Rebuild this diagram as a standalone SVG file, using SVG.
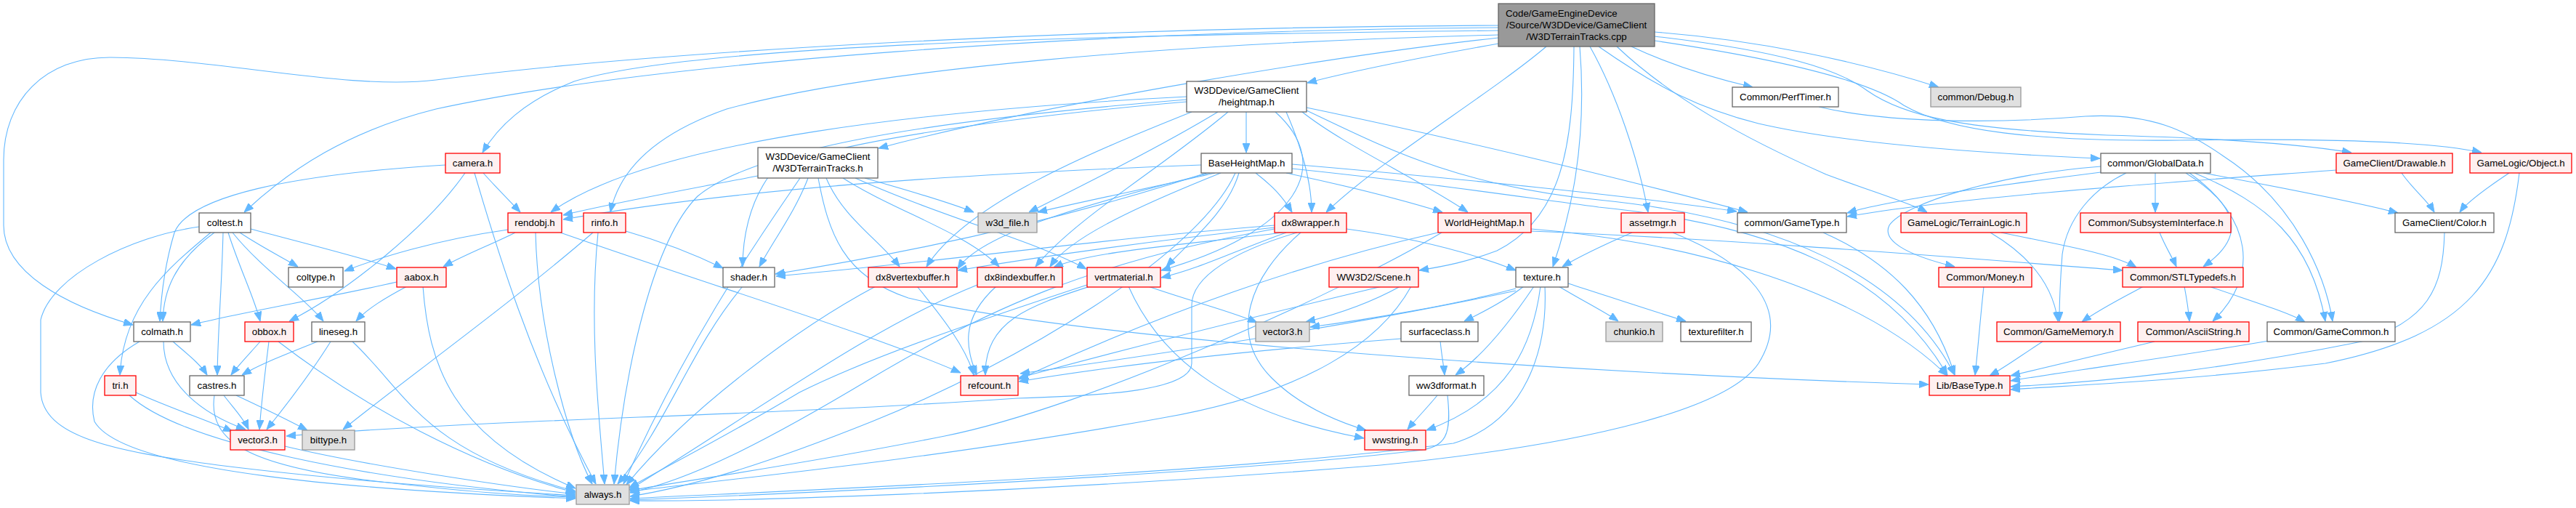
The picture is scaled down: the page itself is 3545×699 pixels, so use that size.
<svg xmlns="http://www.w3.org/2000/svg" width="3545" height="699" viewBox="0 0 3545 699">
<defs>
<style>
.w{fill:#ffffff;stroke:#666666;stroke-width:1.3}
.g{fill:#e0e0e0;stroke:#999999;stroke-width:1.3}
.r{fill:#fff0f0;stroke:#ff0000;stroke-width:1.3}
.m{fill:#999999;stroke:#666666;stroke-width:1.3}
text{font-family:"Liberation Sans",Arial,Helvetica,sans-serif;font-size:13.3px;fill:#000000;text-anchor:middle}
.e path{fill:none;stroke:#63b8ff;stroke-width:1.1;marker-end:url(#a)}
</style>
<marker id="a" markerUnits="userSpaceOnUse" markerWidth="13" markerHeight="10" refX="13" refY="5" orient="auto">
<path d="M0,0 L13,5 L0,10 z" fill="#63b8ff" stroke="#63b8ff" stroke-width="1"/>
</marker>
</defs>
<rect width="3545" height="699" fill="#ffffff"/>
<g class="e" id="edges">
<path d="M2062,52 C1850,75 1450,140 1209,204"/>
<path d="M2062,60 C1950,80 1860,98 1799,114"/>
<path d="M2062,42 C1500,48 950,62 790,112 C720,140 685,175 664,210"/>
<path d="M2062,38 C1500,42 900,85 600,150 C480,180 400,232 336,292"/>
<path d="M2062,35 C1500,37 900,70 600,110 C480,125 300,80 153,79 C60,78 5,140 5,220 L5,310 C5,375 90,420 183,447"/>
<path d="M2062,48 C1600,60 1200,95 1000,150 C900,185 852,235 840,292"/>
<path d="M2128,64 C2050,130 1900,220 1825,292"/>
<path d="M2166,64 C2165,200 2150,300 2060,345 C2020,360 1990,366 1953,372"/>
<path d="M2174,64 C2185,200 2160,300 2137,367"/>
<path d="M2188,64 C2225,130 2255,220 2268,292"/>
<path d="M2245,64 C2300,90 2360,108 2412,120"/>
<path d="M2277,44 C2420,55 2560,85 2668,120"/>
<path d="M2200,64 C2280,120 2340,150 2420,170 C2550,200 2750,212 2890,218"/>
<path d="M2225,64 C2300,135 2400,190 2513,240 C2580,265 2630,280 2652,292"/>
<path d="M2277,50 C2450,70 2530,95 2570,125 C2620,160 2700,178 2900,186 C3050,190 3160,197 3236,210"/>
<path d="M2277,56 C2440,80 2570,110 2620,145 C2680,180 2800,195 3000,193 C3200,190 3350,195 3415,210"/>
<path d="M1043,242 C950,260 850,278 775,296"/>
<path d="M1190,245 C1250,262 1310,280 1340,292"/>
<path d="M1101,245 C1050,320 950,460 858,666"/>
<path d="M1112,245 C1095,290 1065,330 1045,367"/>
<path d="M1126,245 C1140,320 1160,380 1250,410 C1500,470 2200,515 2654,529"/>
<path d="M1137,245 C1160,300 1210,330 1238,367"/>
<path d="M1160,245 C1230,290 1330,320 1375,367"/>
<path d="M1177,245 C1300,300 1420,330 1495,370"/>
<path d="M1715,154 L1715,210"/>
<path d="M1633,133 C1300,150 900,190 758,292"/>
<path d="M1633,137 C1350,160 1050,195 960,270 C900,330 860,500 845,666"/>
<path d="M1633,140 C1400,160 1100,200 1060,240 C1030,280 1022,330 1022,367"/>
<path d="M1676,154 C1600,200 1500,250 1416,292"/>
<path d="M1640,154 C1500,210 1330,280 1275,367"/>
<path d="M1690,154 C1600,230 1480,300 1425,367"/>
<path d="M1770,154 C1790,200 1805,250 1805,292"/>
<path d="M1792,154 C1850,200 1950,245 2020,292"/>
<path d="M1755,154 C1840,230 1780,320 1598,372"/>
<path d="M1798,148 C2000,190 2250,250 2405,292"/>
<path d="M1798,152 C1900,200 2000,255 2200,275 C2450,300 2620,380 2690,516"/>
<path d="M1653,227 C1300,240 1000,262 775,302"/>
<path d="M1672,238 C1600,255 1500,275 1428,292"/>
<path d="M1660,238 C1500,290 1300,340 1067,377"/>
<path d="M1728,238 C1750,255 1765,270 1778,292"/>
<path d="M1665,238 C1500,280 1350,320 1318,370"/>
<path d="M1680,238 C1550,290 1470,330 1445,367"/>
<path d="M1705,238 C1690,290 1640,330 1605,367"/>
<path d="M1770,238 C1850,255 1930,275 1985,292"/>
<path d="M1778,226 C2000,245 2250,270 2390,291"/>
<path d="M1778,232 C1950,250 2050,265 2200,285 C2450,310 2600,380 2680,516"/>
<path d="M1700,238 C1650,350 1400,500 1200,580 C1050,640 950,670 867,683"/>
<path d="M613,227 C400,240 260,270 240,320 C228,360 222,400 220,442"/>
<path d="M665,238 C680,255 700,275 716,292"/>
<path d="M640,238 C590,310 480,400 398,442"/>
<path d="M653,238 C680,330 730,500 820,666"/>
<path d="M274,312 C180,325 70,380 56,440 L56,540 C60,600 150,620 300,640 C500,665 700,676 792,682"/>
<path d="M290,320 C230,370 170,420 165,516"/>
<path d="M295,320 C240,360 225,400 224,442"/>
<path d="M307,320 C305,400 300,450 299,516"/>
<path d="M314,320 C330,370 350,410 358,442"/>
<path d="M320,320 C360,370 420,410 445,442"/>
<path d="M330,320 C360,340 390,355 410,367"/>
<path d="M345,315 C420,335 500,355 545,370"/>
<path d="M699,316 C600,330 520,355 474,373"/>
<path d="M709,320 C680,335 640,350 610,367"/>
<path d="M737,320 C740,450 780,600 815,666"/>
<path d="M771,320 C1000,400 1200,460 1322,513"/>
<path d="M816,320 C700,420 560,520 472,591"/>
<path d="M823,320 C810,450 825,580 832,666"/>
<path d="M861,318 C920,335 960,352 995,369"/>
<path d="M1754,310 C1500,330 1300,360 1068,380"/>
<path d="M1754,313 C1600,330 1450,350 1318,372"/>
<path d="M1765,320 C1650,335 1500,345 1450,368"/>
<path d="M1770,320 C1700,345 1650,370 1598,382"/>
<path d="M1853,315 C1950,328 2030,350 2086,372"/>
<path d="M1790,320 C1720,380 1690,460 1750,520 C1790,560 1840,580 1880,592"/>
<path d="M1785,320 C1700,345 1640,380 1640,420 L1640,500 C1640,540 1500,545 1400,548 C1000,575 700,575 394,600"/>
<path d="M1754,315 C1500,360 1350,430 1200,520 C1050,610 950,660 867,678"/>
<path d="M1979,320 C1800,360 1600,430 1402,522"/>
<path d="M2107,315 C2300,330 2550,390 2680,517"/>
<path d="M2107,318 C2400,330 2700,355 2921,372"/>
<path d="M1984,320 C1850,400 1500,560 1300,600 C1100,640 950,660 867,675"/>
<path d="M2246,320 C2200,340 2170,355 2150,367"/>
<path d="M2302,320 C2400,360 2470,420 2420,500 C2380,560 2200,610 1900,640 C1400,680 1000,690 867,689"/>
<path d="M2509,320 C2600,360 2660,420 2690,516"/>
<path d="M2739,320 C2790,350 2825,390 2832,442"/>
<path d="M2754,320 C2850,340 2910,350 2940,368"/>
<path d="M2891,237 C2750,255 2600,275 2542,293"/>
<path d="M2966,238 L2966,292"/>
<path d="M2926,238 C2880,260 2845,300 2838,350 C2835,390 2834,415 2834,442"/>
<path d="M2891,229 C2750,240 2620,280 2600,310 C2590,330 2620,350 2690,367"/>
<path d="M3008,238 C3090,290 3085,330 3032,367"/>
<path d="M3013,238 C3100,300 3110,380 3045,442"/>
<path d="M3020,238 C3120,280 3180,330 3200,442"/>
<path d="M3032,238 C3150,260 3250,280 3300,293"/>
<path d="M2503,147 C2600,170 2750,170 2870,160 C2960,155 3010,180 3060,215 C3160,280 3200,380 3210,442"/>
<path d="M3305,238 C3320,260 3340,275 3350,292"/>
<path d="M3215,234 C3000,250 2700,270 2542,298"/>
<path d="M3453,238 C3420,260 3395,278 3385,292"/>
<path d="M3467,238 C3450,380 3400,460 3200,500 C3000,525 2850,530 2767,536"/>
<path d="M3364,320 C3362,400 3340,440 3250,470 C3050,510 2900,525 2767,532"/>
<path d="M2972,320 C2980,340 2990,355 2995,367"/>
<path d="M2950,394 C2920,410 2890,425 2865,443"/>
<path d="M3006,394 C3010,415 3012,430 3013,442"/>
<path d="M3040,394 C3100,415 3150,430 3172,443"/>
<path d="M2965,470 C2880,490 2820,505 2767,517"/>
<path d="M2811,470 C2780,490 2760,505 2738,517"/>
<path d="M3122,469 C3000,490 2850,510 2767,524"/>
<path d="M2730,394 C2725,440 2722,480 2718,516"/>
<path d="M1902,394 C1750,430 1550,480 1402,520"/>
<path d="M1927,394 C1880,420 1830,435 1797,443"/>
<path d="M1942,394 C1900,470 1800,540 1600,575 C1300,630 1000,660 867,676"/>
<path d="M2086,397 C2000,420 1880,440 1803,450"/>
<path d="M2086,400 C1900,440 1650,480 1404,514"/>
<path d="M2097,394 C2070,415 2040,430 2015,442"/>
<path d="M2111,394 C2080,440 2040,490 2003,516"/>
<path d="M2120,394 C2110,470 2080,550 1963,592"/>
<path d="M2126,394 C2130,480 2100,580 2000,610 C1700,650 1200,670 867,686"/>
<path d="M2145,394 C2180,415 2210,430 2227,442"/>
<path d="M2158,390 C2220,410 2280,430 2320,442"/>
<path d="M1928,466 C1750,480 1550,500 1402,525"/>
<path d="M1982,469 C1984,490 1987,505 1988,516"/>
<path d="M1978,544 C1965,560 1950,575 1937,591"/>
<path d="M1992,544 C1998,600 1990,615 1950,620 C1700,650 1200,675 867,688"/>
<path d="M1500,394 C1420,420 1355,440 1356,516"/>
<path d="M1580,394 C1640,415 1700,430 1730,444"/>
<path d="M1553,394 C1600,500 1700,570 1877,603"/>
<path d="M1496,392 C1350,440 1200,490 1100,540 C1000,600 920,640 866,671"/>
<path d="M1262,394 C1300,440 1330,480 1340,516"/>
<path d="M1205,394 C1100,450 950,560 862,667"/>
<path d="M1371,394 C1320,440 1330,480 1344,516"/>
<path d="M1345,392 C1200,450 1050,560 866,674"/>
<path d="M1022,394 C950,480 920,580 850,666"/>
<path d="M546,388 C450,410 330,430 263,447"/>
<path d="M560,394 C530,410 505,425 490,442"/>
<path d="M582,394 C590,500 620,600 792,672"/>
<path d="M238,470 C255,485 275,500 285,516"/>
<path d="M225,470 C225,530 280,570 338,591"/>
<path d="M192,470 C140,500 120,540 130,580 C170,650 500,675 792,686"/>
<path d="M358,470 C345,485 330,500 318,516"/>
<path d="M370,470 C365,510 360,550 357,591"/>
<path d="M383,470 C500,560 650,640 792,678"/>
<path d="M437,470 C400,485 360,500 333,516"/>
<path d="M455,470 C430,510 400,550 367,591"/>
<path d="M485,470 C560,540 580,620 792,676"/>
<path d="M187,540 C230,560 290,580 320,594"/>
<path d="M178,544 C250,610 500,660 792,684"/>
<path d="M308,544 C320,560 335,575 342,591"/>
<path d="M325,544 C370,565 400,580 423,592"/>
<path d="M295,544 C285,610 350,640 500,660 C650,678 720,682 792,684"/>
<path d="M392,614 C500,640 700,670 792,680"/>
</g>
<g id="n_main"><rect class="m" x="2062" y="5" width="215" height="59"/><text x="2072" y="23" style="text-anchor:start">Code/GameEngineDevice</text><text x="2169.5" y="39">/Source/W3DDevice/GameClient</text><text x="2169.5" y="55">/W3DTerrainTracks.cpp</text></g>
<g id="n_w3dtt"><rect class="w" x="1043" y="203" width="165" height="42"/><text x="1125.5" y="220">W3DDevice/GameClient</text><text x="1125.5" y="236">/W3DTerrainTracks.h</text></g>
<g id="n_heightmap"><rect class="w" x="1633" y="112" width="165" height="42"/><text x="1715.5" y="129">W3DDevice/GameClient</text><text x="1715.5" y="145">/heightmap.h</text></g>
<g id="n_perftimer"><rect class="w" x="2384" y="120" width="146" height="27"/><text x="2457" y="138">Common/PerfTimer.h</text></g>
<g id="n_debug"><rect class="g" x="2657" y="120" width="124" height="27"/><text x="2719" y="138">common/Debug.h</text></g>
<g id="n_camera"><rect class="r" x="613" y="211" width="75" height="27"/><text x="650.5" y="229">camera.h</text></g>
<g id="n_bhm"><rect class="w" x="1653" y="211" width="125" height="27"/><text x="1715.5" y="229">BaseHeightMap.h</text></g>
<g id="n_globaldata"><rect class="w" x="2891" y="211" width="151" height="27"/><text x="2966.5" y="229">common/GlobalData.h</text></g>
<g id="n_drawable"><rect class="r" x="3215" y="211" width="160" height="27"/><text x="3295" y="229">GameClient/Drawable.h</text></g>
<g id="n_object"><rect class="r" x="3399" y="211" width="140" height="27"/><text x="3469" y="229">GameLogic/Object.h</text></g>
<g id="n_coltest"><rect class="w" x="274" y="293" width="71" height="27"/><text x="309.5" y="311">coltest.h</text></g>
<g id="n_rendobj"><rect class="r" x="699" y="293" width="74" height="27"/><text x="736" y="311">rendobj.h</text></g>
<g id="n_rinfo"><rect class="r" x="803" y="293" width="58" height="27"/><text x="832" y="311">rinfo.h</text></g>
<g id="n_w3dfile"><rect class="g" x="1346" y="293" width="81" height="27"/><text x="1386.5" y="311">w3d_file.h</text></g>
<g id="n_dx8wrapper"><rect class="r" x="1754" y="293" width="99" height="27"/><text x="1803.5" y="311">dx8wrapper.h</text></g>
<g id="n_whm"><rect class="r" x="1979" y="293" width="128" height="27"/><text x="2043" y="311">WorldHeightMap.h</text></g>
<g id="n_assetmgr"><rect class="r" x="2231" y="293" width="87" height="27"/><text x="2274.5" y="311">assetmgr.h</text></g>
<g id="n_gametype"><rect class="w" x="2391" y="293" width="150" height="27"/><text x="2466" y="311">common/GameType.h</text></g>
<g id="n_terrainlogic"><rect class="r" x="2616" y="293" width="173" height="27"/><text x="2702.5" y="311">GameLogic/TerrainLogic.h</text></g>
<g id="n_subsystem"><rect class="r" x="2863" y="293" width="207" height="27"/><text x="2966.5" y="311">Common/SubsystemInterface.h</text></g>
<g id="n_color"><rect class="w" x="3296" y="293" width="136" height="27"/><text x="3364" y="311">GameClient/Color.h</text></g>
<g id="n_coltype"><rect class="w" x="397" y="368" width="75" height="27"/><text x="434.5" y="386">coltype.h</text></g>
<g id="n_aabox"><rect class="r" x="546" y="368" width="68" height="27"/><text x="580" y="386">aabox.h</text></g>
<g id="n_shader"><rect class="w" x="995" y="368" width="71" height="27"/><text x="1030.5" y="386">shader.h</text></g>
<g id="n_dx8vb"><rect class="r" x="1195" y="368" width="122" height="27"/><text x="1256" y="386">dx8vertexbuffer.h</text></g>
<g id="n_dx8ib"><rect class="r" x="1345" y="368" width="117" height="27"/><text x="1403.5" y="386">dx8indexbuffer.h</text></g>
<g id="n_vertmaterial"><rect class="r" x="1496" y="368" width="101" height="27"/><text x="1546.5" y="386">vertmaterial.h</text></g>
<g id="n_scene"><rect class="r" x="1829" y="368" width="123" height="27"/><text x="1890.5" y="386">WW3D2/Scene.h</text></g>
<g id="n_texture"><rect class="w" x="2086" y="368" width="72" height="27"/><text x="2122" y="386">texture.h</text></g>
<g id="n_money"><rect class="r" x="2668" y="368" width="128" height="27"/><text x="2732" y="386">Common/Money.h</text></g>
<g id="n_stltypedefs"><rect class="r" x="2921" y="368" width="166" height="27"/><text x="3004" y="386">Common/STLTypedefs.h</text></g>
<g id="n_colmath"><rect class="w" x="184" y="443" width="78" height="27"/><text x="223" y="461">colmath.h</text></g>
<g id="n_obbox"><rect class="r" x="337" y="443" width="67" height="27"/><text x="370.5" y="461">obbox.h</text></g>
<g id="n_lineseg"><rect class="w" x="429" y="443" width="73" height="27"/><text x="465.5" y="461">lineseg.h</text></g>
<g id="n_vector3b"><rect class="g" x="1728" y="443" width="74" height="27"/><text x="1765" y="461">vector3.h</text></g>
<g id="n_surfaceclass"><rect class="w" x="1928" y="443" width="106" height="27"/><text x="1981" y="461">surfaceclass.h</text></g>
<g id="n_chunkio"><rect class="g" x="2210" y="443" width="78" height="27"/><text x="2249" y="461">chunkio.h</text></g>
<g id="n_texturefilter"><rect class="w" x="2313" y="443" width="97" height="27"/><text x="2361.5" y="461">texturefilter.h</text></g>
<g id="n_gamememory"><rect class="r" x="2748" y="443" width="170" height="27"/><text x="2833" y="461">Common/GameMemory.h</text></g>
<g id="n_asciistring"><rect class="r" x="2942" y="443" width="153" height="27"/><text x="3018.5" y="461">Common/AsciiString.h</text></g>
<g id="n_gamecommon"><rect class="w" x="3120" y="443" width="176" height="27"/><text x="3208" y="461">Common/GameCommon.h</text></g>
<g id="n_tri"><rect class="r" x="144" y="517" width="43" height="27"/><text x="165.5" y="535">tri.h</text></g>
<g id="n_castres"><rect class="w" x="261" y="517" width="75" height="27"/><text x="298.5" y="535">castres.h</text></g>
<g id="n_refcount"><rect class="r" x="1322" y="517" width="79" height="27"/><text x="1361.5" y="535">refcount.h</text></g>
<g id="n_ww3dformat"><rect class="w" x="1939" y="517" width="103" height="27"/><text x="1990.5" y="535">ww3dformat.h</text></g>
<g id="n_basetype"><rect class="r" x="2655" y="517" width="111" height="27"/><text x="2710.5" y="535">Lib/BaseType.h</text></g>
<g id="n_vector3"><rect class="r" x="317" y="592" width="75" height="27"/><text x="354.5" y="610">vector3.h</text></g>
<g id="n_bittype"><rect class="g" x="416" y="592" width="72" height="27"/><text x="452" y="610">bittype.h</text></g>
<g id="n_wwstring"><rect class="r" x="1878" y="592" width="84" height="27"/><text x="1920" y="610">wwstring.h</text></g>
<g id="n_always"><rect class="g" x="793" y="667" width="73" height="27"/><text x="829.5" y="685">always.h</text></g>
</svg>
